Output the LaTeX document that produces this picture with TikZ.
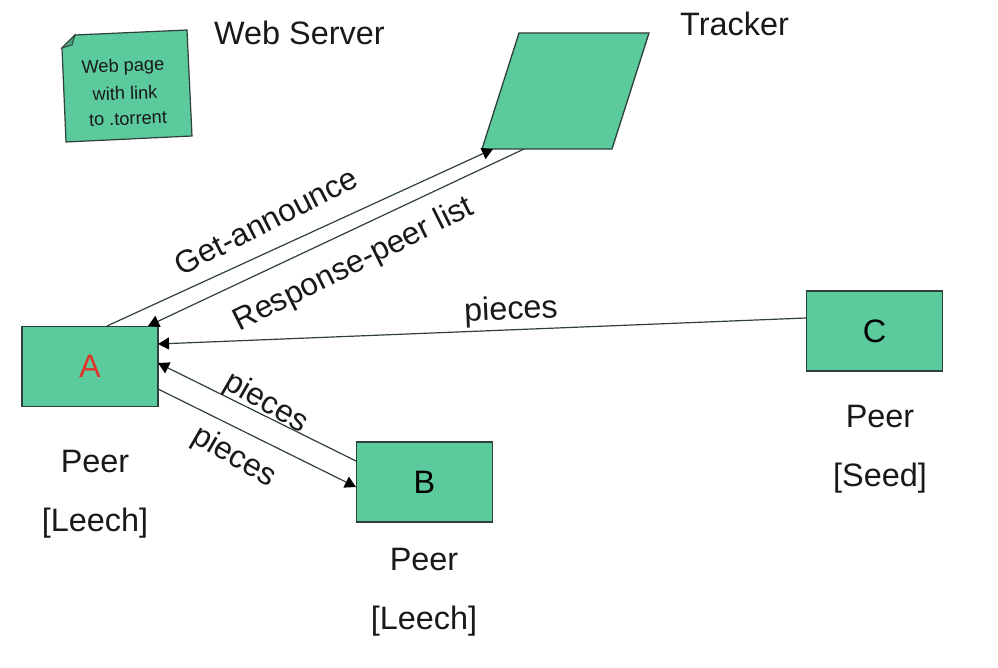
\documentclass[tikz,border=0pt]{standalone}
\usepackage{fontspec}
\setmainfont{Liberation Sans}
\usetikzlibrary{arrows.meta}
\definecolor{boxgreen}{HTML}{5BCA9C}
\definecolor{edge}{HTML}{2F3F3A}
\definecolor{redA}{HTML}{E0352B}
\tikzset{
  peerbox/.style={draw=edge,fill=boxgreen,line width=1.3pt,inner sep=0pt,minimum width=136pt,minimum height=80pt,font=\fontsize{32.4}{32.4}\selectfont},
  lbl/.style={inner sep=0pt,font=\fontsize{32.4}{32.4}\selectfont,text=black!90},
  lblr/.style={inner sep=0pt,font=\fontsize{31.6}{31.6}\selectfont,text=black!90},
  small/.style={inner sep=0pt,font=\fontsize{18.2}{18.2}\selectfont,text=black!90},
  conn/.style={draw=edge,line width=1.2pt},
  arr/.style={conn,-{Triangle[length=11pt,width=12pt,fill=black,color=black]}}
}
\begin{document}
\begin{tikzpicture}[x=1pt,y=-1pt]
\useasboundingbox (0,0) rectangle (998,668);
% web page note
\draw[draw=edge,fill=boxgreen,line width=1.2pt] (75,35) -- (187,30) -- (192,136) -- (66,142) -- (62,48) -- cycle;
\draw[draw=edge,fill=boxgreen!80!black,line width=.9pt] (62,48) -- (72,45) -- (75,35) -- cycle;
\node[small,rotate=2] (w1) at (123,67) {Web page};
\node[small,rotate=2] (w2) at (125,93) {with link};
\node[small,rotate=2] (w3) at (128,119) {to .torrent};
\node[lbl,anchor=west] (ws) at (214,33) {Web Server};
% tracker
\draw[draw=edge,fill=boxgreen,line width=1.3pt] (519,33) -- (649,33) -- (612,149) -- (482,149) -- cycle;
\node[lbl,anchor=west] (tr) at (680,24) {Tracker};
\coordinate (tl) at (493,149);
\coordinate (tb) at (524,149);
% boxes
\node[peerbox] (A) at (90,366.5) {\textcolor{redA}{A}};
\node[peerbox] (B) at (424.5,482) {B};
\node[peerbox] (C) at (874.5,331) {C};
\coordinate (at1) at (107,326);
\coordinate (at2) at (148,326);
\coordinate (ar1) at (158,344);
\coordinate (ar2) at (158,363);
\coordinate (ar3) at (158,389);
\coordinate (bl1) at (356,461);
\coordinate (bl2) at (356,487);
\coordinate (cl) at (806,318);
% connectors
\draw[arr] (at1) -- (tl);
\draw[arr] (tb) -- (at2);
\draw[arr] (cl) -- (ar1);
\draw[arr] (bl1) -- (ar2);
\draw[arr] (ar3) -- (bl2);
% connector labels
\node[lblr,rotate=27] (l1) at (266,221) {Get-announce};
\node[lblr,rotate=26.5] (l2) at (354,265) {Response-peer list};
\node[lbl,rotate=2.5] (l3) at (511,311) {pieces};
\node[lblr,rotate=-30] (l4) at (266,403) {pieces};
\node[lblr,rotate=-30] (l5) at (234,457) {pieces};
% peer labels
\node[lbl] (p1) at (95,462) {Peer};
\node[lbl] (p1b) at (95,523) {[Leech]};
\node[lbl] (p2) at (424,560) {Peer};
\node[lbl] (p2b) at (424,621) {[Leech]};
\node[lbl] (p3) at (880,417) {Peer};
\node[lbl] (p3b) at (880,478) {[Seed]};
\end{tikzpicture}
\end{document}
